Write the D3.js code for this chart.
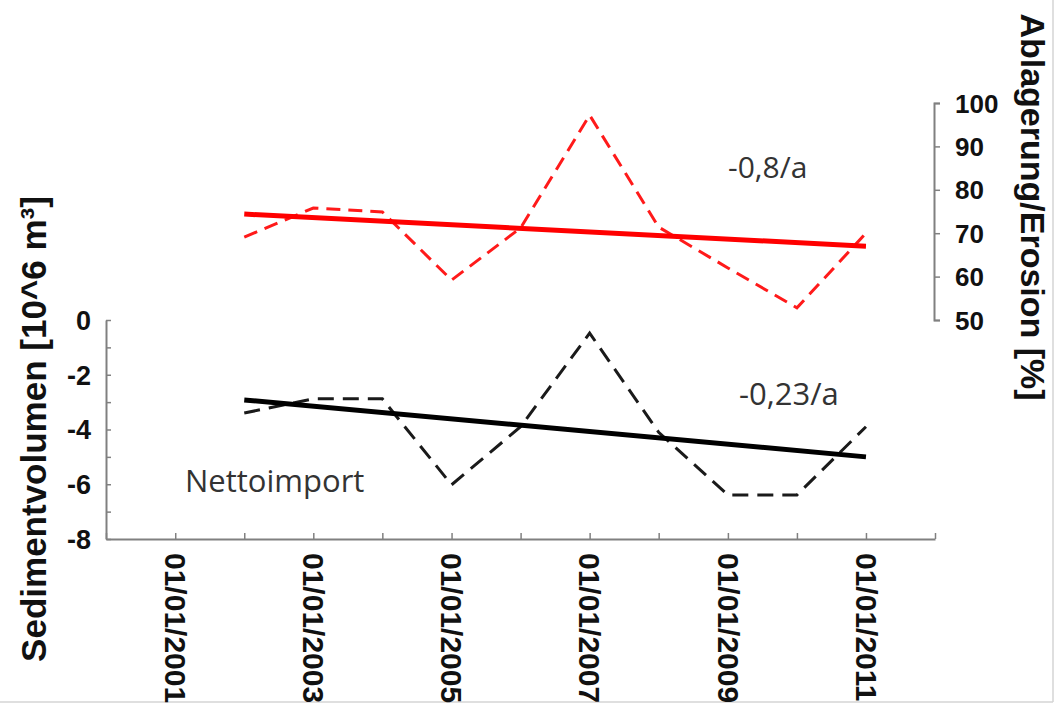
<!DOCTYPE html>
<html>
<head>
<meta charset="utf-8">
<script src="https://cdn.jsdelivr.net/npm/d3@7"></script>
<style>
  html, body { margin: 0; padding: 0; background: #fff; }
  svg { display: block; }
</style>
</head>
<body>
<svg id="chart" width="1056" height="707"></svg>
<script>
// Years of the annual series
const years = [2002, 2003, 2004, 2005, 2006, 2007, 2008, 2009, 2010, 2011];
// Ablagerung/Erosion [%] (right axis)
const ablagerung = [69.1, 75.8, 74.9, 59.2, 71.2, 97.2, 71.4, 62.0, 52.8, 70.0];
// Sedimentvolumen Nettoimport [10^6 m³] (left axis)
const nettoimport = [-3.4, -2.88, -2.88, -6.02, -3.9, -0.48, -4.1, -6.39, -6.39, -3.9];
// Linear trends: values at first and last year
const trendYears = [2002, 2011];
const trendAblagerung = [74.4, 67.0];
const trendNetto = [-2.92, -5.0];
// Axis ticks
const xLabelYears = [2001, 2003, 2005, 2007, 2009, 2011];
const leftTicks = [0, -1, -2, -3, -4, -5, -6, -7, -8];
const leftLabels = [0, -2, -4, -6, -8];
const rightTicks = [50, 60, 70, 80, 90, 100];

const svg = d3.select("#chart");
const date = y => new Date(y, 0, 1);

const x = d3.scaleTime().domain([date(2000), date(2012)]).range([106, 935]);
const yL = d3.scaleLinear().domain([-8, 0]).range([539, 320]);
const yR = d3.scaleLinear().domain([50, 100]).range([320, 103]);

const axisColor = "#808080";
const boldFont = "'Liberation Sans', Arial, sans-serif";

// frame edges
svg.append("line").attr("x1", 1053).attr("x2", 1053).attr("y1", 0).attr("y2", 702)
  .attr("stroke", "#d4d4d4").attr("stroke-width", 1.5);
svg.append("line").attr("x1", 0).attr("x2", 1053).attr("y1", 702).attr("y2", 702)
  .attr("stroke", "#d4d4d4").attr("stroke-width", 1.5);

function styleAxis(g) {
  g.selectAll("path.domain").attr("stroke", axisColor).attr("stroke-width", 2);
  g.selectAll(".tick line").attr("stroke", axisColor).attr("stroke-width", 1.5);
  g.selectAll("text").attr("fill", "#111").attr("font-family", boldFont).attr("font-weight", "bold");
}

// left axis
const gL = svg.append("g").attr("transform", "translate(106,0)")
  .call(d3.axisLeft(yL).tickValues(leftTicks).tickSizeInner(-5).tickSizeOuter(0).tickPadding(15)
    .tickFormat(d => leftLabels.includes(d) ? String(d) : ""));
styleAxis(gL);
gL.selectAll("text").attr("font-size", 27).attr("dy", "0.35em");

// right axis
const gR = svg.append("g").attr("transform", "translate(934,0)")
  .call(d3.axisRight(yR).tickValues(rightTicks).tickSizeInner(6).tickSizeOuter(6).tickPadding(15)
    .tickFormat(d3.format("d")));
styleAxis(gR);
gR.selectAll("text").attr("font-size", 26).attr("dy", "0.35em");

// bottom axis
const gB = svg.append("g").attr("transform", "translate(0,539)")
  .call(d3.axisBottom(x).ticks(d3.timeYear.every(1)).tickSizeInner(-6).tickSizeOuter(0)
    .tickFormat(d => xLabelYears.includes(d.getFullYear()) ? d3.timeFormat("%m/%d/%Y")(d) : ""));
styleAxis(gB);
gB.selectAll(".tick text")
  .attr("font-size", 30)
  .attr("text-anchor", "start")
  .attr("transform", "translate(0,14) rotate(90)")
  .attr("x", 0).attr("y", 0)
  .attr("dy", "0.36em");

// axis titles
svg.append("text")
  .attr("transform", "translate(46,429) rotate(-90)")
  .attr("text-anchor", "middle")
  .attr("font-family", boldFont).attr("font-weight", "bold").attr("font-size", 35)
  .attr("fill", "#111")
  .text("Sedimentvolumen [10^6 m³]");
svg.append("text")
  .attr("transform", "translate(1021,207) rotate(90)")
  .attr("text-anchor", "middle")
  .attr("font-family", boldFont).attr("font-weight", "bold").attr("font-size", 34)
  .attr("fill", "#111")
  .text("Ablagerung/Erosion [%]");

// series
const lineR = d3.line().x((d, i) => x(date(years[i]))).y(d => yR(d));
const lineL = d3.line().x((d, i) => x(date(years[i]))).y(d => yL(d));
const trendR = d3.line().x((d, i) => x(date(trendYears[i]))).y(d => yR(d));
const trendL = d3.line().x((d, i) => x(date(trendYears[i]))).y(d => yL(d));

svg.append("path").datum(ablagerung).attr("d", lineR)
  .attr("fill", "none").attr("stroke", "#ff1a1a").attr("stroke-width", 3)
  .attr("stroke-dasharray", "14,8");
svg.append("path").datum(trendAblagerung).attr("d", trendR)
  .attr("fill", "none").attr("stroke", "#ff0000").attr("stroke-width", 5);

svg.append("path").datum(nettoimport).attr("d", lineL)
  .attr("fill", "none").attr("stroke", "#1a1a1a").attr("stroke-width", 3)
  .attr("stroke-dasharray", "16,9");
svg.append("path").datum(trendNetto).attr("d", trendL)
  .attr("fill", "none").attr("stroke", "#000").attr("stroke-width", 5);

// annotations
const noteFont = "'Open Sans', sans-serif";
svg.append("text").attr("x", 728).attr("y", 178)
  .attr("font-family", noteFont).attr("font-size", 30).attr("fill", "#333")
  .text("-0,8/a");
svg.append("text").attr("x", 739).attr("y", 405)
  .attr("font-family", noteFont).attr("font-size", 31).attr("fill", "#333")
  .text("-0,23/a");
svg.append("text").attr("x", 185).attr("y", 492)
  .attr("font-family", noteFont).attr("font-size", 31).attr("fill", "#333")
  .text("Nettoimport");
</script>
</body>
</html>
